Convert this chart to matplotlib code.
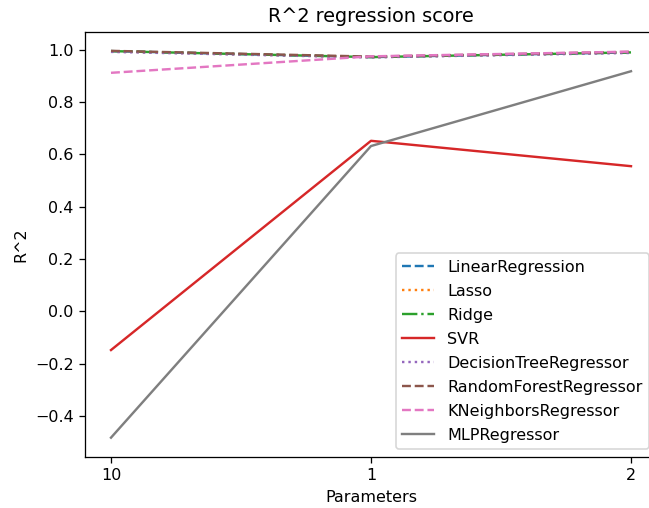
import matplotlib
matplotlib.use("Agg")
import matplotlib.pyplot as plt

params = ["10", "1", "2"]

linear = [0.995, 0.972, 0.990]
lasso = [0.994, 0.972, 0.990]
ridge = [0.995, 0.972, 0.990]
svr = [-0.148, 0.652, 0.555]
dtree = [0.992, 0.971, 0.988]
forest = [0.996, 0.974, 0.992]
kneighbors = [0.912, 0.975, 0.993]
mlp = [-0.483, 0.632, 0.918]

dpi = 115.3
fig = plt.figure(figsize=(649 / dpi, 508 / dpi), dpi=dpi)
# axes runs past the right edge, like the cropped original
ax = fig.add_axes([85 / 649, 51 / 508, 572 / 649, 425.5 / 508])

ax.plot(params, linear, label="LinearRegression", linestyle="--")
ax.plot(params, lasso, label="Lasso", linestyle=":")
ax.plot(params, ridge, label="Ridge", linestyle="-.")
ax.plot(params, svr, label="SVR", linestyle="-")
ax.plot(params, dtree, label="DecisionTreeRegressor", linestyle=":")
ax.plot(params, forest, label="RandomForestRegressor", linestyle="--")
ax.plot(params, kneighbors, label="KNeighborsRegressor", linestyle="--")
ax.plot(params, mlp, label="MLPRegressor", linestyle="-")

ax.set_xlabel("Parameters")
ax.set_ylabel("R^2")
ax.set_title("R^2 regression score")
ax.legend(loc="lower right", labelspacing=0.56)

fig.savefig("out.png", dpi=dpi)
